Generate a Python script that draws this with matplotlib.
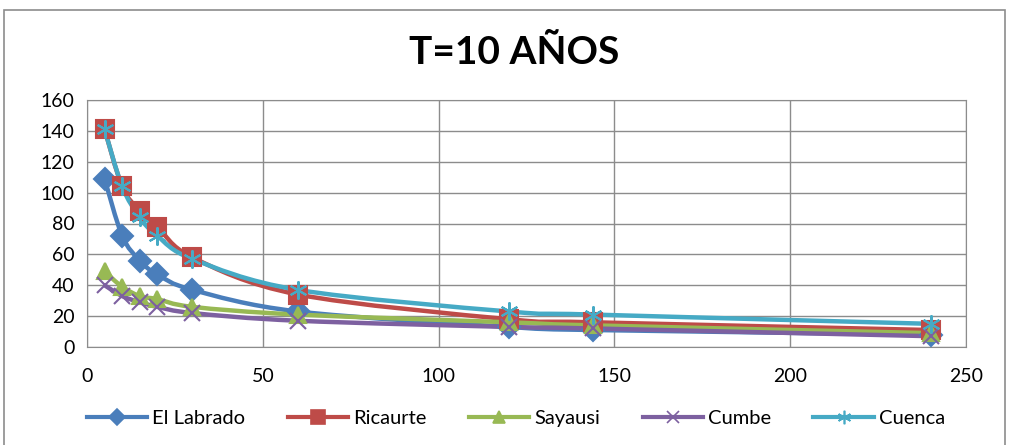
import matplotlib
matplotlib.use("Agg")
import matplotlib.pyplot as plt
from matplotlib.path import Path
from matplotlib.patches import PathPatch, Rectangle
import numpy as np

plt.rcParams['font.family'] = ['Lato', 'DejaVu Sans']

# datos
duracion = [5, 10, 15, 20, 30, 60, 120, 144, 240]
el_labrado = [109, 72, 56, 47, 37, 23, 13, 11, 8]
ricaurte = [141, 104, 88, 78, 58, 34, 18, 16, 11]
sayausi = [49, 39, 33, 31, 26, 21, 16, 14, 9]
cumbe = [40, 33, 29, 26, 22, 17, 13, 12, 7]
cuenca = [141, 104, 84, 72, 57, 37, 23, 21, 15]

series = [
    ("El Labrado", el_labrado, "#4A7EBB", "D", 11),
    ("Ricaurte", ricaurte, "#BE4B48", "s", 13),
    ("Sayausi", sayausi, "#98B954", "^", 12),
    ("Cumbe", cumbe, "#7D60A0", "x", 11),
    ("Cuenca", cuenca, "#46AAC5", (6, 2, 0), 13),
]


def curva_suave(x, y):
    # Catmull-Rom como bezier (parecido al suavizado de Excel)
    pts = np.column_stack([x, y]).astype(float)
    verts = [pts[0]]
    codes = [Path.MOVETO]
    n = len(pts)
    for i in range(n - 1):
        p0 = pts[i - 1] if i > 0 else pts[i]
        p1 = pts[i]
        p2 = pts[i + 1]
        p3 = pts[i + 2] if i + 2 < n else pts[i + 1]
        c1 = p1 + (p2 - p0) / 6.0
        c2 = p2 - (p3 - p1) / 6.0
        verts += [c1, c2, p2]
        codes += [Path.CURVE4] * 3
    return Path(verts, codes)


fig = plt.figure(figsize=(10.09, 4.45), dpi=100)
ax = fig.add_axes([87 / 1009, 1 - 347 / 445, (966 - 87) / 1009, (347 - 100) / 445])

# borde del area del grafico
fig.patches.append(Rectangle((4 / 1009, -0.05), 1001 / 1009, 1.0 - 10 / 445 + 0.05,
                             transform=fig.transFigure, fill=False,
                             edgecolor="#8C8C8C", linewidth=1.2))

for nombre, vals, color, marker, ms in series:
    pth = curva_suave(duracion, vals)
    patch = PathPatch(pth, facecolor="none", edgecolor=color, linewidth=3.2, zorder=3)
    ax.add_patch(patch)
    ax.plot(duracion, vals, linestyle="none", marker=marker, markersize=ms,
            color=color, markeredgecolor=color, markeredgewidth=1.5, zorder=4)
    ax.plot([], [], color=color, linewidth=3, marker=marker, markersize=ms * 0.75,
            markeredgewidth=1.2, label=nombre)

ax.set_xlim(0, 250)
ax.set_ylim(0, 160)
ax.set_xticks(np.arange(0, 251, 50))
ax.set_yticks(np.arange(0, 161, 20))
ax.grid(True, color="#8C8C8C", linewidth=1)
ax.set_axisbelow(True)
for sp in ax.spines.values():
    sp.set_color("#8C8C8C")
ax.tick_params(length=0, labelsize=14)
ax.tick_params(axis="y", pad=9)
ax.tick_params(axis="x", pad=15)

fig.text(514 / 1009, 1 - 52 / 445, "T=10 AÑOS", ha="center", va="center",
         fontsize=28, fontweight="bold")

fig.legend(loc="center", bbox_to_anchor=(516 / 1009, 1 - 418 / 445), ncol=5,
           frameon=False, fontsize=14.5, handlelength=3.0, columnspacing=2.1,
           handletextpad=0.25)

fig.savefig("out.png", dpi=100)
